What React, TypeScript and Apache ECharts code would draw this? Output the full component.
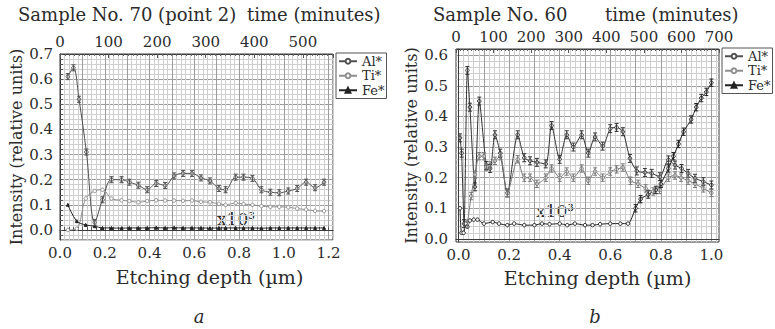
import React, { useEffect, useRef } from "react";
import * as echarts from "echarts";

const FONT = "DejaVu Serif";
const TXT = "#2b2b2b";

// ---------- Sample No. 70 (point 2) ----------
const S70_AL_DEPTH = [0.035, 0.06, 0.085, 0.118, 0.155, 0.19, 0.23, 0.275, 0.31, 0.35, 0.39, 0.43, 0.47, 0.51, 0.55, 0.59, 0.63, 0.67, 0.71, 0.74, 0.785, 0.82, 0.86, 0.9, 0.94, 0.98, 1.02, 1.06, 1.1, 1.14, 1.18];
const S70_AL = [0.61, 0.645, 0.52, 0.31, 0.03, 0.12, 0.2, 0.2, 0.19, 0.178, 0.16, 0.185, 0.177, 0.215, 0.225, 0.225, 0.207, 0.195, 0.165, 0.16, 0.21, 0.21, 0.205, 0.16, 0.15, 0.148, 0.155, 0.165, 0.19, 0.168, 0.19];
const S70_AL_ERR = 0.012;

const S70_TI_DEPTH = [0.035, 0.075, 0.115, 0.155, 0.19, 0.23, 0.275, 0.31, 0.35, 0.39, 0.43, 0.47, 0.51, 0.55, 0.59, 0.63, 0.67, 0.71, 0.74, 0.785, 0.82, 0.86, 0.9, 0.94, 0.98, 1.02, 1.06, 1.1, 1.14, 1.18];
const S70_TI = [0.0, 0.005, 0.125, 0.155, 0.16, 0.125, 0.118, 0.115, 0.11, 0.115, 0.118, 0.117, 0.117, 0.116, 0.117, 0.112, 0.11, 0.104, 0.1, 0.107, 0.103, 0.1, 0.095, 0.092, 0.092, 0.09, 0.085, 0.081, 0.076, 0.075];

const S70_FE_DEPTH = [0.035, 0.075, 0.115, 0.155, 0.19, 0.23, 0.275, 0.31, 0.35, 0.39, 0.43, 0.47, 0.51, 0.55, 0.59, 0.63, 0.67, 0.71, 0.74, 0.785, 0.82, 0.86, 0.9, 0.94, 0.98, 1.02, 1.06, 1.1, 1.14, 1.18];
const S70_FE = [0.1, 0.035, 0.02, 0.015, 0.008, 0.008, 0.007, 0.008, 0.008, 0.008, 0.009, 0.008, 0.009, 0.008, 0.008, 0.008, 0.007, 0.008, 0.008, 0.008, 0.008, 0.008, 0.007, 0.008, 0.008, 0.008, 0.008, 0.008, 0.008, 0.008];

// ---------- Sample No. 60 ----------
const S60_AL_DEPTH = [0.006, 0.012, 0.022, 0.035, 0.045, 0.065, 0.082, 0.11, 0.125, 0.144, 0.165, 0.193, 0.234, 0.26, 0.283, 0.31, 0.345, 0.368, 0.4, 0.428, 0.454, 0.487, 0.513, 0.54, 0.57, 0.6, 0.625, 0.65, 0.678, 0.705, 0.737, 0.764, 0.796, 0.83, 0.856, 0.882, 0.908, 0.935, 0.968, 1.0];
const S60_AL = [0.33, 0.28, 0.05, 0.55, 0.43, 0.17, 0.45, 0.24, 0.23, 0.34, 0.28, 0.15, 0.34, 0.265, 0.255, 0.25, 0.245, 0.37, 0.26, 0.34, 0.3, 0.34, 0.28, 0.333, 0.303, 0.36, 0.364, 0.35, 0.263, 0.222, 0.217, 0.214, 0.203, 0.258, 0.241, 0.23, 0.214, 0.198, 0.187, 0.176];
const S60_AL_ERR = 0.013;

const S60_TI_DEPTH = [0.035, 0.05, 0.065, 0.082, 0.1, 0.11, 0.125, 0.144, 0.165, 0.193, 0.234, 0.26, 0.283, 0.31, 0.345, 0.368, 0.4, 0.428, 0.454, 0.487, 0.513, 0.54, 0.57, 0.6, 0.625, 0.65, 0.68, 0.71, 0.74, 0.77, 0.795, 0.83, 0.856, 0.88, 0.908, 0.935, 0.968, 1.0];
const S60_TI = [0.05, 0.14, 0.21, 0.27, 0.27, 0.235, 0.24, 0.255, 0.27, 0.15, 0.26, 0.2, 0.2, 0.18, 0.2, 0.23, 0.2, 0.22, 0.2, 0.23, 0.19, 0.22, 0.2, 0.22, 0.227, 0.233, 0.19, 0.18, 0.165, 0.155, 0.16, 0.2, 0.207, 0.2, 0.19, 0.18, 0.165, 0.15];
const S60_TI_ERR = 0.012;

const S60_FE_DEPTH = [0.006, 0.012, 0.02, 0.028, 0.035, 0.045, 0.06, 0.075, 0.1, 0.135, 0.16, 0.193, 0.22, 0.26, 0.3, 0.33, 0.36, 0.4, 0.43, 0.46, 0.5, 0.53, 0.56, 0.6, 0.64, 0.67, 0.7, 0.72, 0.75, 0.78, 0.8, 0.83, 0.85, 0.87, 0.89, 0.92, 0.94, 0.96, 0.98, 1.0];
const S60_FE = [0.1, 0.02, 0.02, 0.05, 0.04, 0.06, 0.063, 0.063, 0.05, 0.055, 0.05, 0.045, 0.05, 0.045, 0.045, 0.05, 0.048, 0.05, 0.045, 0.05, 0.045, 0.045, 0.048, 0.05, 0.05, 0.05, 0.1, 0.13, 0.145, 0.16, 0.18, 0.23, 0.27, 0.31, 0.35, 0.39, 0.43, 0.46, 0.48, 0.51];
const S60_FE_ERR = 0.012;

const LEGEND_NAMES = ["Al*", "Ti*", "Fe*"];
const DEPTH_TICKS_STEP = 0.2;
const INTENSITY_TICKS_STEP = 0.1;

const MAJ = "#9c9c9c";
const MIN = "#cfcfcf";
const NONE = "rgba(0,0,0,0)";

const pairs = (x: number[], y: number[]) => x.map((d, i) => [d, y[i]]);
const errs = (x: number[], y: number[], e: number, from = -1) =>
  x.map((d, i) => [d, y[i] - e, y[i] + e]).filter((p) => p[0] >= from);

const fmt = (step: number) => (v: number) => {
  const r = v / step;
  return Math.abs(r - Math.round(r)) < 1e-6 ? v.toFixed(1) : "";
};

const errRender = (color: string) => (params: any, api: any) => {
  const x = api.value(0);
  const p1 = api.coord([x, api.value(1)]);
  const p2 = api.coord([x, api.value(2)]);
  const w = 2;
  const style = { stroke: color, lineWidth: 1 };
  return {
    type: "group",
    children: [
      { type: "line", shape: { x1: p1[0], y1: p1[1], x2: p2[0], y2: p2[1] }, style },
      { type: "line", shape: { x1: p1[0] - w, y1: p1[1], x2: p1[0] + w, y2: p1[1] }, style },
      { type: "line", shape: { x1: p2[0] - w, y1: p2[1], x2: p2[0] + w, y2: p2[1] }, style },
    ],
  };
};

const labelStyle = { fontFamily: FONT, fontSize: 15, color: TXT };

export default function App() {
  const ref = useRef<HTMLDivElement>(null);
  useEffect(() => {
    if (!ref.current) return;
    const chart = echarts.init(ref.current, null, { renderer: "svg" });
    const axisLine = { show: true, lineStyle: { color: "#3a3a3a", width: 1 } };
    const tick = { show: true, inside: true, length: 3, lineStyle: { color: "#555" } };
    const titleStyle = { fontFamily: FONT, fontSize: 18, fontWeight: "normal" as const, color: TXT };

    const lineSeries = (name: string, data: number[][], xi: number, yi: number, color: string, symbol: string, smooth: number, filled = false, symbolSize = 3.5) => ({
      type: "line",
      name,
      xAxisIndex: xi,
      yAxisIndex: yi,
      data,
      smooth,
      symbol,
      symbolSize,
      lineStyle: { color, width: 1 },
      itemStyle: { color: filled ? color : "#fff", borderColor: color, borderWidth: 1 },
      z: 3,
    });
    const errSeries = (data: number[][], xi: number, yi: number, color: string) => ({
      type: "custom",
      xAxisIndex: xi,
      yAxisIndex: yi,
      renderItem: errRender(color),
      encode: { x: 0, y: [1, 2] },
      data,
      silent: true,
      z: 4,
    });

    const legendBase = {
      data: LEGEND_NAMES,
      orient: "vertical",
      borderColor: "#555",
      borderWidth: 1,
      padding: [1, 2, 1, 2],
      itemGap: 0,
      itemWidth: 18,
      itemHeight: 6,
      selectedMode: false,
      textStyle: { fontFamily: FONT, fontSize: 13, color: TXT, lineHeight: 14.5 },
    };

    const option: any = {
      animation: false,
      backgroundColor: "#fff",
      title: [
        { text: "Sample No. 70 (point 2)", left: 18, top: 5, padding: 0, textStyle: titleStyle },
        { text: "time (minutes)", left: 247, top: 5, padding: 0, textStyle: titleStyle },
        { text: "Sample No. 60", left: 433, top: 5, padding: 0, textStyle: titleStyle },
        { text: "time (minutes)", left: 605, top: 5, padding: 0, textStyle: titleStyle },
      ],
      legend: [
        { ...legendBase, left: 336, top: 53 },
        { ...legendBase, left: 722, top: 48 },
      ],
      grid: [
        { left: 60, top: 54, width: 273, height: 186, show: true, borderColor: "#3a3a3a", borderWidth: 1 },
        { left: 456, top: 49, width: 263, height: 193, show: true, borderColor: "#3a3a3a", borderWidth: 1 },
      ],
      xAxis: [
        {
          gridIndex: 0, type: "value", position: "bottom", min: 0, max: 1.22, interval: 0.02,
          axisLine, axisTick: tick,
          axisLabel: { ...labelStyle, formatter: fmt(DEPTH_TICKS_STEP), margin: 5, showMinLabel: true, showMaxLabel: false },
          splitLine: { show: true, lineStyle: { color: [MAJ, MIN, MIN, MIN, MIN], width: 1 } },
          name: "Etching depth (µm)", nameLocation: "middle", nameGap: 27,
          nameTextStyle: { fontFamily: FONT, fontSize: 19, color: TXT, padding: [0, 0, 0, 26] },
        },
        {
          gridIndex: 0, type: "value", position: "top", min: 0, max: 562, interval: 100,
          axisLine, axisTick: { ...tick, length: 4 },
          minorTick: { show: true, splitNumber: 10, length: 2, lineStyle: { color: "#666" } },
          axisLabel: { ...labelStyle, margin: 5, showMaxLabel: false },
          splitLine: { show: false },
        },
        {
          gridIndex: 1, type: "value", position: "bottom", min: -0.01, max: 1.03, interval: 0.01,
          axisLine, axisTick: { show: false },
          axisLabel: { ...labelStyle, formatter: fmt(DEPTH_TICKS_STEP), margin: 5, showMinLabel: false, showMaxLabel: false },
          splitLine: { show: true, lineStyle: { color: [NONE, MAJ, NONE, MIN, NONE, MIN, NONE, MIN, NONE, MIN], width: 1 } },
          name: "Etching depth (µm)", nameLocation: "middle", nameGap: 26,
          nameTextStyle: { fontFamily: FONT, fontSize: 19, color: TXT, padding: [0, 0, 0, 20] },
        },
        {
          gridIndex: 1, type: "value", position: "top", min: 0, max: 700, interval: 100,
          axisLine, axisTick: { ...tick, length: 4 },
          minorTick: { show: true, splitNumber: 10, length: 2, lineStyle: { color: "#666" } },
          axisLabel: { ...labelStyle, margin: 5, showMaxLabel: true },
          splitLine: { show: false },
        },
      ],
      yAxis: [
        {
          gridIndex: 0, type: "value", min: -0.04, max: 0.7, interval: 0.02,
          axisLine, axisTick: tick,
          axisLabel: { ...labelStyle, formatter: fmt(INTENSITY_TICKS_STEP), margin: 7, showMinLabel: false, showMaxLabel: true },
          splitLine: { show: true, lineStyle: { color: [MIN, MIN, MAJ, MIN, MIN], width: 1 } },
          name: "Intensity (relative units)", nameLocation: "middle", nameGap: 36,
          nameTextStyle: { fontFamily: FONT, fontSize: 16, color: TXT },
        },
        {
          gridIndex: 1, type: "value", min: -0.01, max: 0.62, interval: 0.01,
          axisLine, axisTick: { show: false },
          axisLabel: { ...labelStyle, formatter: fmt(INTENSITY_TICKS_STEP), margin: 8, showMinLabel: false, showMaxLabel: false },
          splitLine: { show: true, lineStyle: { color: [NONE, MAJ, NONE, MIN, NONE, MIN, NONE, MIN, NONE, MIN], width: 1 } },
          name: "Intensity (relative units)", nameLocation: "middle", nameGap: 37,
          nameTextStyle: { fontFamily: FONT, fontSize: 16, color: TXT },
        },
      ],
      series: [
        lineSeries("Al*", pairs(S70_AL_DEPTH, S70_AL), 0, 0, "#505050", "circle", 0.35),
        lineSeries("Ti*", pairs(S70_TI_DEPTH, S70_TI), 0, 0, "#8f8f8f", "circle", 0.35),
        lineSeries("Fe*", pairs(S70_FE_DEPTH, S70_FE), 0, 0, "#222", "triangle", 0.35, true, 3),
        errSeries(errs(S70_AL_DEPTH, S70_AL, S70_AL_ERR), 0, 0, "#505050"),
        lineSeries("Al*", pairs(S60_AL_DEPTH, S60_AL), 2, 1, "#333", "circle", 0.25),
        lineSeries("Ti*", pairs(S60_TI_DEPTH, S60_TI), 2, 1, "#777", "circle", 0.25),
        lineSeries("Fe*", pairs(S60_FE_DEPTH, S60_FE), 2, 1, "#222", "circle", 0.25),
        errSeries(errs(S60_AL_DEPTH, S60_AL, S60_AL_ERR), 2, 1, "#333"),
        errSeries(errs(S60_TI_DEPTH, S60_TI, S60_TI_ERR), 2, 1, "#777"),
        errSeries(errs(S60_FE_DEPTH, S60_FE, S60_FE_ERR, 0.69), 2, 1, "#222"),
      ],
      graphic: [
        { type: "text", x: 236, y: 219, style: { text: "x10³", font: `17px "${FONT}"`, fill: TXT, textAlign: "center", textVerticalAlign: "middle" } },
        { type: "text", x: 555, y: 211, style: { text: "x10³", font: `17px "${FONT}"`, fill: TXT, textAlign: "center", textVerticalAlign: "middle" } },
        { type: "text", x: 199, y: 316, style: { text: "a", font: `italic 18px "${FONT}"`, fill: TXT, textAlign: "center", textVerticalAlign: "middle" } },
        { type: "text", x: 595, y: 316, style: { text: "b", font: `italic 18px "${FONT}"`, fill: TXT, textAlign: "center", textVerticalAlign: "middle" } },
      ],
    };
    chart.setOption(option);
    return () => chart.dispose();
  }, []);
  return <div ref={ref} style={{ position: "fixed", left: 0, top: 0, width: 775, height: 329, background: "#fff" }} />;
}
